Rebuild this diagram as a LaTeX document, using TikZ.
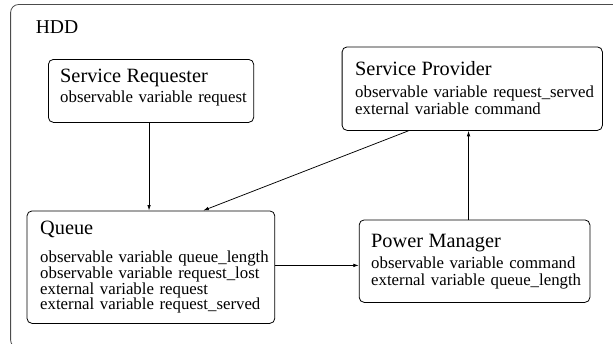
\documentclass[tikz,border=0pt]{standalone}
\usepackage{fontspec}
\setmainfont{Liberation Serif}
\usetikzlibrary{arrows.meta}
\newcommand{\ttl}{\fontsize{20.3}{22}\selectfont}
\newcommand{\fstrut}{\rule{0pt}{14pt}}
\tikzset{
  box/.style={draw, rounded corners=5pt, line width=0.8pt, anchor=north west,
    inner sep=0pt},
  boxtext/.style={anchor=north west, inner sep=0pt, align=left, text width=260pt},
  conn/.style={line width=0.75pt, -{Latex[length=5.5pt,width=3.6pt]}},
  frame/.style={draw=black!70, line width=0.8pt, rounded corners=8pt}
}
\begin{document}
\begin{tikzpicture}[x=1pt,y=-1pt]
\useasboundingbox (0,0) rectangle (613,343);
\clip (0,0) rectangle (613,343);
\draw[frame] (10.6,4.5) rectangle (640,348);
\node[anchor=base west, inner sep=0pt, font=\fontsize{19.6}{22}\selectfont] (hdd) at (35.6,33.3) {HDD};

% boxes
\node[box, minimum width=205.3pt, minimum height=63pt] (sr) at (48,59) {};
\node[box, minimum width=260.3pt, minimum height=83.5pt] (sp) at (341.7,46.5) {};
\node[box, minimum width=247.8pt, minimum height=112.5pt] (q) at (26.6,210.5) {};
\node[box, minimum width=230.7pt, minimum height=82.5pt] (pm) at (358.8,219.5) {};

% texts (first baseline = y + 14)
\node[boxtext, font=\fontsize{16.8}{16.2}\selectfont] (srt) at (60,68.3)
  {\fstrut{\ttl Service Requester}\\[4.2pt]observable variable request};
\node[boxtext, font=\fontsize{16.8}{16.7}\selectfont] (spt) at (355,61.7)
  {\fstrut{\ttl Service Provider}\\[4.9pt]observable variable request\_served\\external variable command};
\node[boxtext, font=\fontsize{16.8}{15.8}\selectfont] (qt) at (40,220.7)
  {\fstrut{\ttl Queue}\\[11.8pt]observable variable queue\_length\\observable variable request\_lost\\external variable request\\external variable request\_served};
\node[boxtext, font=\fontsize{16.8}{16.6}\selectfont] (pmt) at (371,233.7)
  {\fstrut{\ttl Power Manager}\\[4.4pt]observable variable command\\external variable queue\_length};

% connectors
\draw[conn] ([xshift=-2pt]sr.south) -- ([xshift=-2pt]sr.south |- q.north);
\draw[conn] ([xshift=66.8pt]sp.south west) -- ([xshift=176.7pt]q.north west);
\draw[conn] ([yshift=1.75pt]q.east) -- ([yshift=1.75pt]q.east -| pm.west);
\draw[conn] ([xshift=-6pt]pm.north) -- ([xshift=-6pt]pm.north |- sp.south);
\end{tikzpicture}
\end{document}
